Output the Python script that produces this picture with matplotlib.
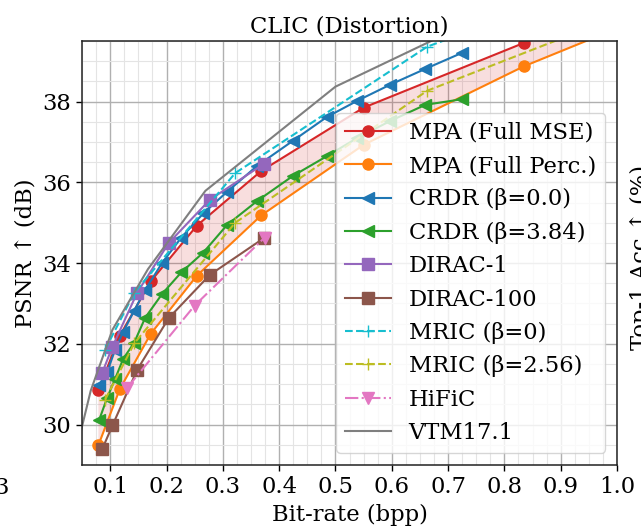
import numpy as np
import matplotlib
matplotlib.use("Agg")
import matplotlib.pyplot as plt
from matplotlib.ticker import MultipleLocator

plt.rcParams['font.family'] = ['DejaVu Serif', 'DejaVu Sans']

# MPA: same bit-rates for both decoders
mpa_bpp = [0.079, 0.117, 0.172, 0.254, 0.368, 0.550, 0.834, 1.2]
mpa_mse_psnr = [30.85, 32.20, 33.55, 34.93, 36.28, 37.85, 39.45, 41.4]
mpa_perc_psnr = [29.49, 30.88, 32.25, 33.69, 35.18, 36.93, 38.87, 40.95]

crdr_bpp = [0.0805, 0.0947, 0.1089, 0.1231, 0.1426, 0.1622, 0.1924, 0.2261, 0.2652,
            0.3078, 0.3611, 0.4245, 0.4849, 0.5387, 0.5973, 0.6595, 0.7252]
crdr0_psnr = [30.99, 31.31, 31.86, 32.30, 32.82, 33.34, 34.01, 34.63, 35.23,
              35.77, 36.41, 37.03, 37.62, 38.02, 38.42, 38.81, 39.21]
crdr384_psnr = [30.12, 30.67, 31.14, 31.63, 32.03, 32.65, 33.24, 33.77, 34.26,
                34.95, 35.54, 36.16, 36.65, 37.10, 37.52, 37.92, 38.06]

dirac_bpp = [0.086, 0.104, 0.148, 0.204, 0.277, 0.373]
dirac1_psnr = [31.29, 31.93, 33.27, 34.50, 35.57, 36.46]
dirac100_psnr = [29.40, 29.98, 31.36, 32.64, 33.71, 34.62]

mric_bpp = [0.091, 0.143, 0.322, 0.663, 1.0]
mric0_psnr = [31.86, 33.27, 36.23, 39.36, 41.1]
mric256_psnr = [30.62, 32.02, 35.00, 38.27, 40.1]

hific_bpp = [0.130, 0.250, 0.374]
hific_psnr = [30.91, 32.95, 34.63]

vtm_bpp = [0.042, 0.0654, 0.104, 0.167, 0.269, 0.500, 0.85]
vtm_psnr = [29.5, 30.84, 32.35, 33.85, 35.79, 38.37, 40.7]

fs = 16.3
ms = 8

fig = plt.figure(figsize=(6.41, 5.30), dpi=100)
ax = fig.add_axes([0.128, 0.1226, 0.8346, 0.80])

ax.fill(np.concatenate([mpa_bpp, mpa_bpp[::-1]]),
        np.concatenate([mpa_mse_psnr, mpa_perc_psnr[::-1]]),
        color="tab:red", alpha=0.15, lw=0)

ax.plot(mpa_bpp, mpa_mse_psnr, "-o", color="tab:red", ms=ms, label="MPA (Full MSE)")
ax.plot(mpa_bpp, mpa_perc_psnr, "-o", color="tab:orange", ms=ms, label="MPA (Full Perc.)")
ax.plot(crdr_bpp, crdr0_psnr, "-<", color="tab:blue", ms=ms, label="CRDR (β=0.0)")
ax.plot(crdr_bpp, crdr384_psnr, "-<", color="tab:green", ms=ms, label="CRDR (β=3.84)")
ax.plot(dirac_bpp, dirac1_psnr, "-s", color="tab:purple", ms=ms, label="DIRAC-1")
ax.plot(dirac_bpp, dirac100_psnr, "-s", color="tab:brown", ms=ms, label="DIRAC-100")
ax.plot(mric_bpp, mric0_psnr, "--+", color="tab:cyan", ms=ms, label="MRIC (β=0)")
ax.plot(mric_bpp, mric256_psnr, "--+", color="tab:olive", ms=ms, label="MRIC (β=2.56)")
ax.plot(hific_bpp, hific_psnr, "-.v", color="tab:pink", ms=ms, label="HiFiC")
ax.plot(vtm_bpp, vtm_psnr, "-", color="tab:gray", label="VTM17.1")

ax.set_xlim(0.05, 1.0)
ax.set_ylim(29.0, 39.5)
ax.set_xticks(np.arange(0.1, 1.01, 0.1))
ax.set_yticks([30, 32, 34, 36, 38])
ax.xaxis.set_minor_locator(MultipleLocator(0.025))
ax.yaxis.set_minor_locator(MultipleLocator(0.5))
ax.set_axisbelow(True)
ax.grid(which="major", color="#b0b0b0", lw=1.0)
ax.grid(which="minor", color="#e4e4e4", lw=0.8)
ax.tick_params(which="minor", length=0)
ax.tick_params(which="major", labelsize=fs, length=4.5, width=1.0)
for s in ax.spines.values():
    s.set_color("#222222")
    s.set_linewidth(1.1)

ax.set_xlabel("Bit-rate (bpp)", fontsize=fs)
ax.set_ylabel("PSNR ↑ (dB)", fontsize=fs)
ax.set_title("CLIC (Distortion)", fontsize=fs)

ax.legend(loc="lower right", bbox_to_anchor=(0.9776, 0.0283), borderaxespad=0,
          fontsize=fs)

# bits of the neighbouring panels that show at the edges of the crop
fig.text(0.014, 1 - 488 / 530, "3", ha="right", va="center", fontsize=fs)
fig.text(0.983, 0.515, "Top-1 Acc ↑ (%)", rotation=90, ha="left", va="center", fontsize=fs)

fig.savefig("out.png", dpi=100)
